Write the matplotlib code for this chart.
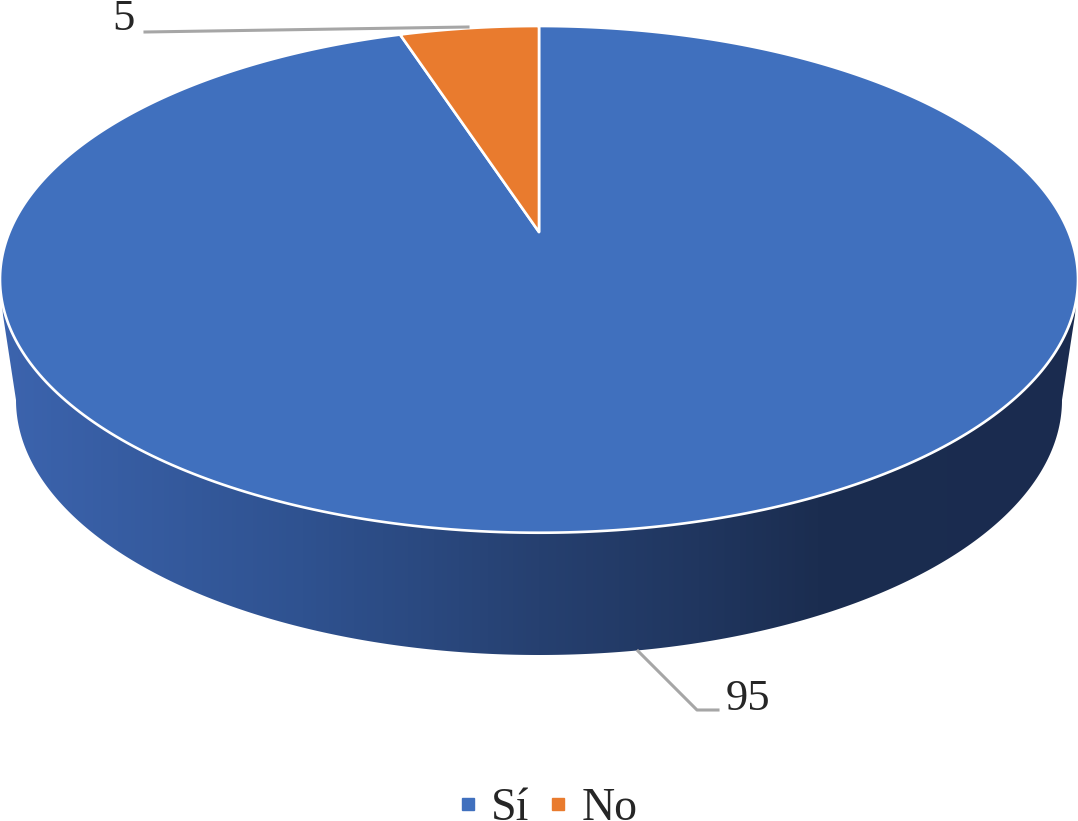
import numpy as np
import matplotlib
matplotlib.use("Agg")
import matplotlib.pyplot as plt
from matplotlib.patches import Polygon
from matplotlib.lines import Line2D
from matplotlib.colors import LinearSegmentedColormap

categories = ["Sí", "No"]
values = [95, 5]
colors = ["#4070BE", "#E97B2E"]

W, H = 1078, 821
plt.rcParams["font.family"] = ["Liberation Serif", "DejaVu Serif"]
fig = plt.figure(figsize=(W / 100, H / 100), dpi=100)
ax = fig.add_axes([0, 0, 1, 1])
ax.set_xlim(0, W)
ax.set_ylim(H, 0)
ax.axis("off")

# Perspective projection of the unit disc onto the page
CX, CY, A, B, P = 539.0, 232.0, 529.5, 244.5, 0.187


def project(theta):
    u, v = np.sin(theta), np.cos(theta)
    d = 1 + P * v
    return np.column_stack([CX + A * u / d, CY - B * v / d])


# Side wall with horizontal gradient
t = np.linspace(np.pi * 0.47, np.pi * 1.53, 300)
rim = project(t)
bt = np.linspace(np.pi, 0, 300)
low = np.column_stack([539 + 523 * np.cos(bt), 400 + 255 * np.sin(bt)])
wall = np.vstack([[[3, 315]], low, [[1075, 315]], rim[np.argsort(-rim[:, 0])]])
clip = Polygon(wall, closed=True, transform=ax.transData, fc="none", ec="none")
ax.add_patch(clip)
cmap = LinearSegmentedColormap.from_list(
    "wall",
    [(0, "#3C64AE"), (0.28, "#2F5290"), (0.5, "#264070"), (0.65, "#20365F"),
     (0.76, "#1B2D50"), (1, "#1A2B4F")],
)
im = ax.imshow(np.linspace(0, 1, 512)[None, :], cmap=cmap, extent=[0, W, 680, 280],
               aspect="auto", zorder=1)
im.set_clip_path(clip)
ax.set_xlim(0, W)
ax.set_ylim(H, 0)

# Top face wedges
start = 0.0
total = sum(values)
for val, col in zip(values, colors):
    sweep = 2 * np.pi * val / total
    arc = project(np.linspace(start, start + sweep, 400))
    pts = np.vstack([[[CX, CY]], arc])
    ax.add_patch(Polygon(pts, closed=True, fc=col, ec="white", lw=1.9, zorder=2,
                         joinstyle="round"))
    start += sweep

# Leader lines and data labels
grey = "#A6A6A6"
ax.plot([145, 468], [32, 27], color=grey, lw=2.2, zorder=3)
ax.plot([638, 697, 718], [651, 710, 710], color=grey, lw=2.2, zorder=3)
ax.text(135, 30, str(values[1]), fontsize=32, color="#262626", ha="right", va="baseline", zorder=4)
ax.text(726, 710, str(values[0]), fontsize=32, color="#262626", ha="left", va="baseline", zorder=4)

# Legend
handles = [Line2D([], [], ls="none", marker="s", ms=8.5, mfc=c, mec=c) for c in colors]
ax.legend(handles, categories, loc="lower center", bbox_to_anchor=(541 / W, -0.0105),
          ncol=2, frameon=False, fontsize=33, labelcolor="#262626", handletextpad=0.0,
          columnspacing=0.14, handlelength=1.0, borderpad=0, borderaxespad=0)

fig.savefig("out.png", dpi=100)
